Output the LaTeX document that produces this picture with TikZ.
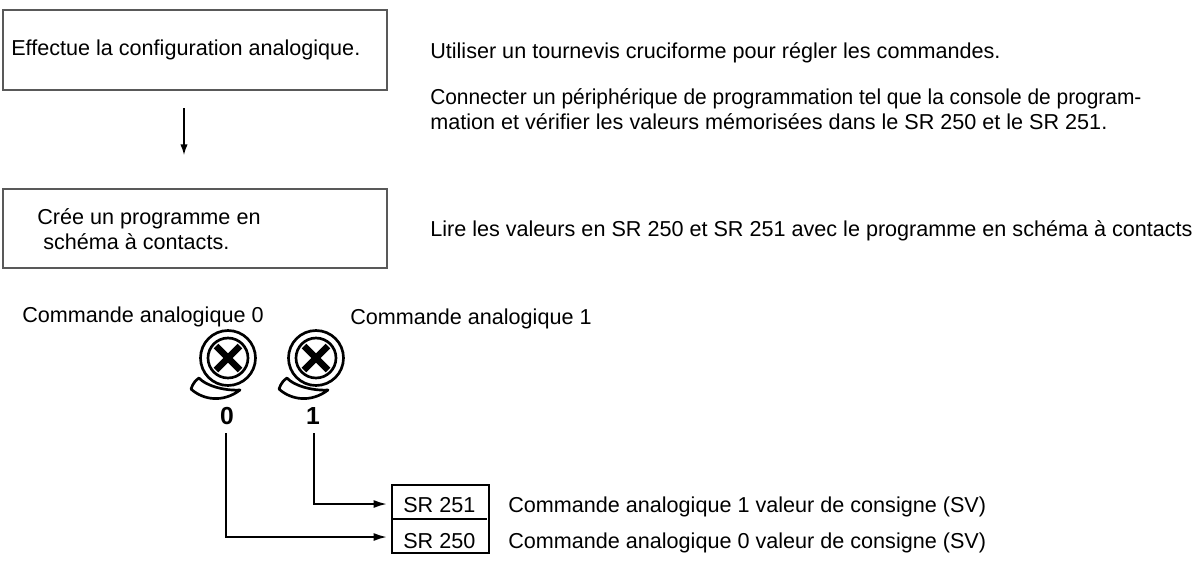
\documentclass[tikz,border=0pt]{standalone}
\usepackage{fontspec}
\setmainfont{Liberation Sans}
\usetikzlibrary{arrows.meta}
\tikzset{
 box/.style={draw=black!65,line width=1.2pt},
 lbl/.style={anchor=base west,inner sep=0pt,font=\fontsize{16.2pt}{19pt}\selectfont},
 digit/.style={anchor=center,inner sep=0pt,font=\fontsize{18.5pt}{19pt}\selectfont\bfseries},
 conn/.style={line width=1.5pt,-{Latex[length=10pt,width=6pt]}},
 knobline/.style={line width=2pt,black}
}
\newcommand{\knob}[1]{%
 \begin{scope}[shift={(#1,-358)}]
  \draw[knobline] (0,0) circle (27.5);
  \draw[knobline] (0,0) circle (20);
  \draw[line width=5pt] (-12,-12) -- (12,12) (-12,12) -- (12,-12);
  \draw[knobline,line join=round] (-37,-31) .. controls (-35,-25) and (-32,-22) .. (-29,-20)
    .. controls (-23,-27) and (-5,-33) .. (12,-32)
    .. controls (-5,-45) and (-25,-42) .. (-37,-31) -- cycle;
 \end{scope}}
\begin{document}
\begin{tikzpicture}[x=0.75pt,y=0.75pt]
\useasboundingbox (0,0) rectangle (1204,-562);
\draw[box] (3,-10) rectangle (387,-90);
\draw[box] (3,-189) rectangle (387,-268);
\node[lbl] (t1) at (11,-55) {Effectue la configuration analogique.};
\node[lbl] (t2) at (37,-224) {Crée un programme en};
\node[lbl] (t3) at (43,-249) {schéma à contacts.};
\node[lbl] (r1) at (430,-58) {Utiliser un tournevis cruciforme pour régler les commandes.};
\node[lbl] (r2) at (430,-104) {\scalebox{0.968}[1]{Connecter un périphérique de programmation tel que la console de program-}};
\node[lbl] (r3) at (430,-129) {mation et vérifier les valeurs mémorisées dans le SR 250 et le SR 251.};
\node[lbl] (r4) at (430,-236) {Lire les valeurs en SR 250 et SR 251 avec le programme en schéma à contacts};
\node[lbl] (c0) at (22,-322) {Commande analogique 0};
\node[lbl] (c1) at (350,-324) {Commande analogique 1};
\knob{228}
\knob{316}
\node[digit] (d0) at (227,-416) {0};
\node[digit] (d1) at (313,-416) {1};
\coordinate (a1) at (184,-108);
\coordinate (a2) at (184,-155);
\draw[line width=1pt,-{Latex[length=8pt,width=5.5pt]}] (a1) -- (a2);
\draw[line width=1.5pt] (392,-485) rectangle (489,-553);
\draw[line width=1.5pt] (392,-519) -- (487,-519);
\node[lbl] (s1) at (403,-512) {SR 251};
\node[lbl] (s0) at (403,-548) {SR 250};
\coordinate (e1) at (387,-504);
\coordinate (e0) at (387,-537);
\coordinate (k1) at (314,-433);
\coordinate (k0) at (226,-433);
\draw[conn] (k1) |- (e1);
\draw[conn] (k0) |- (e0);
\node[lbl] (v1) at (508,-512) {Commande analogique 1 valeur de consigne (SV)};
\node[lbl] (v0) at (508,-548) {Commande analogique 0 valeur de consigne (SV)};
\end{tikzpicture}
\end{document}
